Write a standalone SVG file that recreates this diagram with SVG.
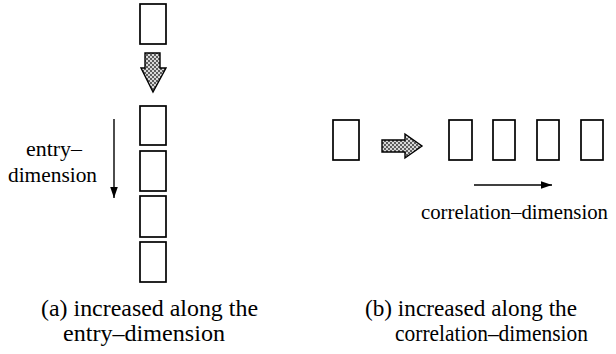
<svg xmlns="http://www.w3.org/2000/svg" width="616" height="354" viewBox="0 0 616 354">
  <style>
    .box { fill: #ffffff; stroke: #000000; stroke-width: 1.7; }
    .big { fill: url(#stipple); stroke: #000000; stroke-width: 1.4; stroke-linejoin: miter; }
    .line { fill: none; stroke: #000000; stroke-width: 1.4; }
    text { font-family: "Liberation Serif", "Times New Roman", serif; fill: #000000; }
    .lbl { font-size: 21px; }
    .cap { font-size: 23px; }
  </style>
  <defs>
    <pattern id="stipple" width="4" height="4" patternUnits="userSpaceOnUse">
      <rect width="4" height="4" fill="#d8d8d8"/>
      <circle cx="1" cy="1" r="0.9" fill="#222222"/>
      <circle cx="3" cy="3" r="0.9" fill="#222222"/>
    </pattern>
    <marker id="ah" markerWidth="12" markerHeight="10" refX="11" refY="5" orient="auto" markerUnits="userSpaceOnUse">
      <path d="M0,1.2 L11,5 L0,8.8 Z" fill="#000000"/>
    </marker>
  </defs>

  <rect width="616" height="354" fill="#ffffff"/>

  <!-- (a) entry-dimension -->
  <g id="a-source"><rect class="box" x="140" y="4" width="26" height="40"/></g>
  <g id="a-box1"><rect class="box" x="140" y="106" width="26" height="39"/></g>
  <g id="a-box2"><rect class="box" x="140" y="151" width="26" height="40"/></g>
  <g id="a-box3"><rect class="box" x="140" y="196" width="26" height="41"/></g>
  <g id="a-box4"><rect class="box" x="140" y="242" width="26" height="40"/></g>

  <!-- (b) correlation-dimension -->
  <g id="b-source"><rect class="box" x="333" y="120" width="26" height="40"/></g>
  <g id="b-box1"><rect class="box" x="449" y="120" width="23" height="40"/></g>
  <g id="b-box2"><rect class="box" x="493" y="120" width="22" height="40"/></g>
  <g id="b-box3"><rect class="box" x="537" y="120" width="22" height="40"/></g>
  <g id="b-box4"><rect class="box" x="581" y="120" width="22" height="40"/></g>

  <g id="connectors">
    <path class="big" d="M145,53 L160,53 L160,68 L166,68 L153,92 L141,68 L145,68 Z"/>
    <path class="big" d="M382,140 L405,140 L405,134 L422,146 L405,158 L405,152 L382,152 Z"/>
    <line class="line" x1="114" y1="119" x2="114" y2="198" marker-end="url(#ah)"/>
    <line class="line" x1="474" y1="185" x2="552" y2="185" marker-end="url(#ah)"/>
  </g>

  <g id="labels">
    <text class="lbl" x="26" y="156" textLength="56" lengthAdjust="spacingAndGlyphs">entry–</text>
    <text class="lbl" x="8" y="182" textLength="89" lengthAdjust="spacingAndGlyphs">dimension</text>
    <text class="lbl" x="421" y="219" textLength="187" lengthAdjust="spacingAndGlyphs">correlation–dimension</text>
    <text class="cap" x="41" y="316" textLength="217" lengthAdjust="spacingAndGlyphs">(a) increased along the</text>
    <text class="cap" x="63" y="341" textLength="162" lengthAdjust="spacingAndGlyphs">entry–dimension</text>
    <text class="cap" x="365" y="316" textLength="212" lengthAdjust="spacingAndGlyphs">(b) increased along the</text>
    <text class="cap" x="395" y="341" textLength="193" lengthAdjust="spacingAndGlyphs">correlation–dimension</text>
  </g>
</svg>
